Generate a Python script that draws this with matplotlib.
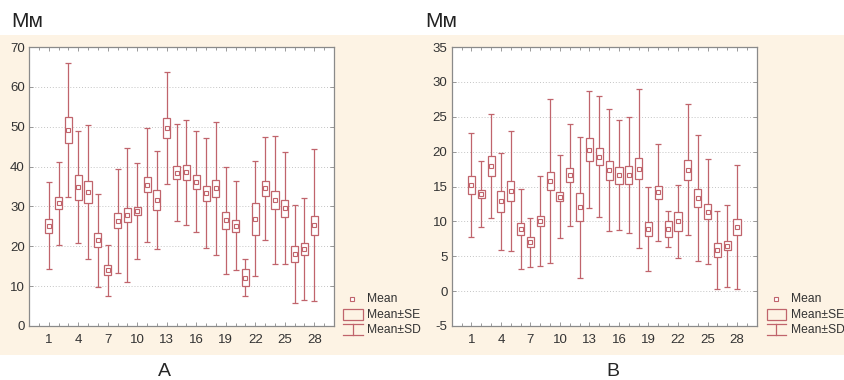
import numpy as np
import matplotlib
matplotlib.use('Agg')
import matplotlib.pyplot as plt
from matplotlib.lines import Line2D
from matplotlib.patches import Rectangle
from matplotlib.ticker import FixedLocator, MultipleLocator

plt.rcParams['font.family'] = ['Liberation Sans', 'DejaVu Sans']
plt.rcParams['axes.unicode_minus'] = False

GROUPS = np.arange(1, 29)
XTICKS = [1, 4, 7, 10, 13, 16, 19, 22, 25, 28]

# panel A: mean, standard error, standard deviation
A_MEAN = [25.2, 30.75, 49.1, 34.8, 33.6, 21.5, 14.0, 26.4, 27.85, 28.85,
          35.4, 31.6, 49.7, 38.5, 38.55, 36.2, 33.3, 34.5, 26.5, 25.2,
          12.1, 26.9, 34.55, 31.65, 29.55, 18.0, 19.3, 25.3]
A_SE = [1.75, 1.5, 3.25, 3.1, 2.85, 1.75, 1.25, 1.9, 1.85, 1.1,
        1.9, 2.4, 2.5, 1.65, 1.85, 1.8, 1.9, 2.2, 2.2, 1.5,
        2.1, 4.0, 1.85, 2.25, 2.15, 2.0, 1.4, 2.4]
A_SD = [10.85, 10.5, 16.85, 14.1, 16.9, 11.7, 6.35, 13.1, 16.9, 12.0,
        14.4, 12.4, 14.1, 12.2, 13.2, 12.65, 13.85, 16.75, 13.5, 11.1,
        4.6, 14.45, 12.95, 16.0, 14.1, 12.25, 12.75, 19.1]

# panel B
B_MEAN = [15.2, 13.9, 17.95, 12.85, 14.3, 8.9, 7.0, 10.05, 15.75, 13.55,
          16.65, 12.0, 20.3, 19.3, 17.3, 16.6, 16.65, 17.55, 8.95, 14.15,
          8.95, 10.0, 17.4, 13.35, 11.4, 5.9, 6.5, 9.2]
B_SE = [1.25, 0.6, 1.4, 1.5, 1.45, 0.8, 0.7, 0.65, 1.3, 0.65,
        0.95, 2.0, 1.6, 1.2, 1.3, 1.2, 1.25, 1.5, 1.0, 0.95,
        1.15, 1.35, 1.4, 1.35, 1.1, 0.95, 0.65, 1.1]
B_SD = [7.5, 4.7, 7.45, 7.0, 8.6, 5.7, 3.55, 6.5, 11.75, 5.9,
        7.3, 10.1, 8.45, 8.65, 8.75, 7.9, 8.3, 11.4, 6.05, 7.0,
        2.6, 5.2, 9.4, 9.1, 7.5, 5.6, 5.9, 8.95]

RED = '#c0646c'
CREAM = '#fdf3e4'
SPINE = '#8a8a8a'
TXT = '#333333'

W, H = 844, 380
fig = plt.figure(figsize=(W / 100, H / 100), dpi=100)


def rect(x0, y0, x1, y1):
    # pixel box (y from top) -> figure fraction
    return [x0 / W, 1 - y1 / H, (x1 - x0) / W, (y1 - y0) / H]


fig.patches.append(Rectangle((0, 1 - 355 / H), 1, 320 / H, transform=fig.transFigure,
                             facecolor=CREAM, edgecolor='none', zorder=-10))


def panel(box, mean, se, sd, ylim, ystep):
    ax = fig.add_axes(rect(*box))
    mean = np.array(mean)
    se = np.array(se)
    ax.errorbar(GROUPS, mean, yerr=sd, fmt='none', ecolor=RED, elinewidth=0.9,
                capsize=2.4, capthick=0.9, zorder=2)
    ax.bar(GROUPS, 2 * se, bottom=mean - se, width=0.72, facecolor='white',
           edgecolor=RED, linewidth=0.9, zorder=3)
    ax.plot(GROUPS, mean, 's', ms=2.6, mfc='white', mec=RED, mew=0.8, zorder=4)

    ax.set_xlim(-1, 30)
    ax.set_ylim(*ylim)
    ax.xaxis.set_major_locator(FixedLocator(XTICKS))
    ax.xaxis.set_minor_locator(MultipleLocator(1))
    ax.yaxis.set_major_locator(MultipleLocator(ystep))
    ax.tick_params(which='both', direction='in', top=True, right=True,
                   color=SPINE, width=0.6, labelsize=9.5, labelcolor=TXT)
    ax.tick_params(which='major', length=3)
    ax.tick_params(which='minor', length=2)
    ax.tick_params(axis='x', pad=6)
    ax.tick_params(axis='y', pad=3)
    ax.yaxis.grid(True, linestyle=(0, (1, 2)), color='#c4c4c4', linewidth=0.7)
    ax.set_axisbelow(True)
    for s in ax.spines.values():
        s.set_color(SPINE)
        s.set_linewidth(0.9)
    return ax


def legend(dx):
    tr = fig.transFigure
    fx = lambda x: (x + dx) / W
    fy = lambda y: 1 - y / H
    fig.add_artist(Line2D([fx(352)], [fy(298.5)], marker='s', ms=2.6, mfc='white',
                          mec=RED, mew=0.8, transform=tr))
    fig.add_artist(Rectangle((fx(343), fy(320)), 19.5 / W, 11 / H, transform=tr,
                             facecolor='none', edgecolor=RED, linewidth=0.9))
    for y in (324, 335):
        fig.add_artist(Line2D([fx(343), fx(362.5)], [fy(y), fy(y)], color=RED,
                              lw=0.9, transform=tr))
    fig.add_artist(Line2D([fx(352.7), fx(352.7)], [fy(324), fy(335)], color=RED,
                          lw=0.9, transform=tr))
    for y, s in ((298.5, 'Mean'), (315, 'Mean±SE'), (330, 'Mean±SD')):
        fig.text(fx(367.5), fy(y), s, fontsize=8.7, color=TXT, va='center', ha='left')


panel((29, 47, 334, 326), A_MEAN, A_SE, A_SD, (0, 70), 10)
panel((451.7, 47, 756.7, 326), B_MEAN, B_SE, B_SD, (-5, 35), 5)
legend(0)
legend(423.5)

fig.text(11 / W, 1 - 27 / H, 'Мм', fontsize=15, color='#222222', va='baseline')
fig.text(425 / W, 1 - 27 / H, 'Мм', fontsize=15, color='#222222', va='baseline')
fig.text(164.5 / W, 1 - 376 / H, 'А', fontsize=14, color='#262626',
         ha='center', va='baseline')
fig.text(613 / W, 1 - 376 / H, 'В', fontsize=14, color='#262626',
         ha='center', va='baseline')

fig.savefig('out.png', dpi=100)
